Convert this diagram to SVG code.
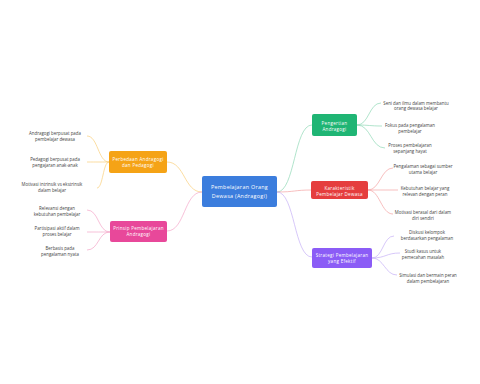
<svg xmlns="http://www.w3.org/2000/svg" width="480" height="384" viewBox="0 0 480 384">
<style>
.nt{font-family:"Open Sans","Liberation Sans",sans-serif;font-size:4.5px;fill:#fff;text-anchor:middle;letter-spacing:0.3px}
.ct{font-family:"Open Sans","Liberation Sans",sans-serif;font-size:5.4px;fill:#fff;text-anchor:middle;letter-spacing:0.3px}
.lt{font-family:"Open Sans","Liberation Sans",sans-serif;font-size:4.4px;fill:#444;text-anchor:middle}
.c{fill:none;stroke-width:0.7}
</style>
<rect width="480" height="384" fill="#fff"/>
<g id="connectors">
<path class="c" stroke="#f9cf7a" d="M202,192 C184,192 185,162 167,162"/>
<path class="c" stroke="#f4a6c9" d="M202,192 C184,192 185,231 167,231"/>
<path class="c" stroke="#8fd9b6" d="M277,192 C295,192 294,125 312,125"/>
<path class="c" stroke="#f4a3a3" d="M277,192 C295,192 294,190 312,190"/>
<path class="c" stroke="#c5b0f7" d="M277,192 C295,192 294,257 312,257"/>
<path class="c" stroke="#8fd9b6" d="M357,125 C369,125 369,103 381,103"/>
<path class="c" stroke="#8fd9b6" d="M357,125 C369,125 370,126 382,126"/>
<path class="c" stroke="#8fd9b6" d="M357,125 C371,125 371,148 385,148"/>
<path class="c" stroke="#f4a3a3" d="M368,190 C380,190 381,168 393,168"/>
<path class="c" stroke="#f4a3a3" d="M368,190 C383,190 383,190 398,190"/>
<path class="c" stroke="#f4a3a3" d="M368,190 C380,190 381,214 393,214"/>
<path class="c" stroke="#c5b0f7" d="M372,258 C383,258 383,236 394,236"/>
<path class="c" stroke="#c5b0f7" d="M372,258 C386,258 386,253 400,253"/>
<path class="c" stroke="#c5b0f7" d="M372,258 C384,258 385,275 397,275"/>
<path class="c" stroke="#f9cf7a" d="M109,162 C98,162 98,136 87,136"/>
<path class="c" stroke="#f9cf7a" d="M109,162 C98,162 98,162 87,162"/>
<path class="c" stroke="#f9cf7a" d="M109,162 C103,162 103,188 97,188"/>
<path class="c" stroke="#f4a6c9" d="M110,232 C98,232 99,210 87,210"/>
<path class="c" stroke="#f4a6c9" d="M110,232 C98,232 99,232 87,232"/>
<path class="c" stroke="#f4a6c9" d="M110,232 C98,232 99,250 87,250"/>
</g>
<g id="central">
<rect x="202" y="176" width="75" height="31" rx="2" fill="#3b7ddd"/>
<text class="ct" x="239.5" y="189">Pembelajaran Orang</text>
<text class="ct" x="239.5" y="198">Dewasa (Andragogi)</text>
</g>
<g id="pengertian">
<rect x="312" y="114" width="45" height="22" rx="2" fill="#1fb574"/>
<text class="nt" x="334.5" y="124.5">Pengertian</text>
<text class="nt" x="334.5" y="130.6">Andragogi</text>
</g>
<g id="karakteristik">
<rect x="311" y="181" width="57" height="18" rx="2" fill="#e53e3e"/>
<text class="nt" x="339.5" y="189.5">Karakteristik</text>
<text class="nt" x="339.5" y="195.6">Pembelajar Dewasa</text>
</g>
<g id="strategi">
<rect x="312" y="248" width="60" height="20" rx="2" fill="#8b5cf6"/>
<text class="nt" x="342" y="256.6">Strategi Pembelajaran</text>
<text class="nt" x="342" y="262.7">yang Efektif</text>
</g>
<g id="perbedaan">
<rect x="109" y="151" width="58" height="22" rx="2" fill="#f5a316"/>
<text class="nt" x="138" y="160.6">Perbedaan Andragogi</text>
<text class="nt" x="138" y="166.7">dan Pedagogi</text>
</g>
<g id="prinsip">
<rect x="110" y="221" width="57" height="21" rx="2" fill="#e8489a"/>
<text class="nt" x="138.5" y="229.6">Prinsip Pembelajaran</text>
<text class="nt" x="138.5" y="235.7">Andragogi</text>
</g>
<g id="leaf-g1"><text class="lt" x="416" y="104.6">Seni dan ilmu dalam membantu</text><text class="lt" x="416" y="110">orang dewasa belajar</text></g>
<g id="leaf-g2"><text class="lt" x="410" y="126.6">Fokus pada pengalaman</text><text class="lt" x="410" y="132.6">pembelajar</text></g>
<g id="leaf-g3"><text class="lt" x="410" y="146.6">Proses pembelajaran</text><text class="lt" x="410" y="152.6">sepanjang hayat</text></g>
<g id="leaf-r1"><text class="lt" x="423" y="167.6">Pengalaman sebagai sumber</text><text class="lt" x="423" y="173.6">utama belajar</text></g>
<g id="leaf-r2"><text class="lt" x="425" y="189.6">Kebutuhan belajar yang</text><text class="lt" x="425" y="195.6">relevan dengan peran</text></g>
<g id="leaf-r3"><text class="lt" x="423" y="213.6">Motivasi berasal dari dalam</text><text class="lt" x="423" y="219.6">diri sendiri</text></g>
<g id="leaf-p1"><text class="lt" x="427" y="233.6">Diskusi kelompok</text><text class="lt" x="427" y="239.6">berdasarkan pengalaman</text></g>
<g id="leaf-p2"><text class="lt" x="423" y="252.6">Studi kasus untuk</text><text class="lt" x="423" y="258.6">pemecahan masalah</text></g>
<g id="leaf-p3"><text class="lt" x="428" y="276.6">Simulasi dan bermain peran</text><text class="lt" x="428" y="282.6">dalam pembelajaran</text></g>
<g id="leaf-o1"><text class="lt" x="55" y="134.6">Andragogi berpusat pada</text><text class="lt" x="55" y="140.6">pembelajar dewasa</text></g>
<g id="leaf-o2"><text class="lt" x="55" y="160.6">Pedagogi berpusat pada</text><text class="lt" x="55" y="166.6">pengajaran anak-anak</text></g>
<g id="leaf-o3"><text class="lt" x="52" y="185.6">Motivasi intrinsik vs ekstrinsik</text><text class="lt" x="52" y="191.6">dalam belajar</text></g>
<g id="leaf-k1"><text class="lt" x="57" y="209.6">Relevansi dengan</text><text class="lt" x="57" y="215.6">kebutuhan pembelajar</text></g>
<g id="leaf-k2"><text class="lt" x="57" y="229.6">Partisipasi aktif dalam</text><text class="lt" x="57" y="235.6">proses belajar</text></g>
<g id="leaf-k3"><text class="lt" x="60" y="249.6">Berbasis pada</text><text class="lt" x="60" y="255.6">pengalaman nyata</text></g>
</svg>
